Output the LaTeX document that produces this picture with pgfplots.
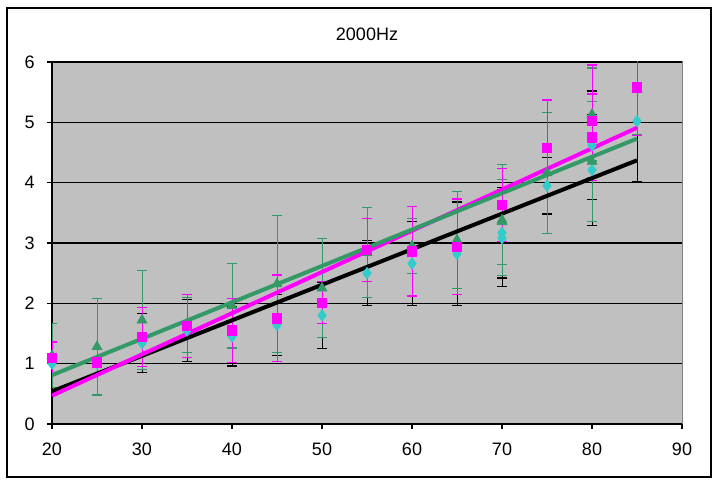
\documentclass[border=0pt]{standalone}
\usepackage{fontspec}
\setmainfont{Liberation Sans}
\usepackage{pgfplots}
\usepackage{pgfplotstable}
\pgfplotsset{compat=1.18}
\definecolor{plotgray}{HTML}{C0C0C0}
\definecolor{mag}{HTML}{FF00FF}
\definecolor{sea}{HTML}{339966}
\definecolor{turq}{HTML}{33CCCC}

\pgfplotstableread{
x y e
20 1.00 0.00
25 1.00 0.00
30 1.34 0.49
35 1.55 0.52
40 1.45 0.49
45 1.64 0.50
50 1.80 0.55
55 2.50 0.54
60 2.66 0.70
65 2.82 0.86
70 3.17 0.75
70 3.08 0.80
75 3.95 0.47
80 4.62 0.90
80 4.21 0.92
85 5.02 1.00
}\cyandata

\pgfplotstableread{
x y e
20 1.10 0.26
25 1.02 0.00
30 1.44 0.49
35 1.62 0.52
40 1.55 0.53
45 1.75 0.72
50 2.01 0.35
55 2.88 0.52
60 2.86 0.74
65 2.94 0.79
70 3.63 0.60
75 4.58 0.79
80 5.02 0.93
80 4.75 0.72
85 5.58 0.80
}\magdata

\pgfplotstableread{
x y e
20 1.13 0.53
25 1.28 0.80
30 1.72 0.82
35 1.64 0.46
40 1.96 0.70
45 2.32 1.14
50 2.25 0.82
55 2.84 0.75
60 2.95 0.46
65 3.05 0.80
70 3.38 0.92
70 3.35 0.70
75 4.16 1.00
80 5.13 0.77
80 4.35 0.99
85 5.54 0.75
}\seadata

\begin{document}
\begin{tikzpicture}
\begin{axis}[
  scale only axis, width=315pt, height=181pt,
  xmin=20, xmax=90, ymin=0, ymax=6,
  xtick={20,30,...,90}, ytick={0,1,...,6},
  axis lines*=left,
  axis line style={black, line width=0.6pt, -},
  axis background/.style={fill=plotgray, draw=gray, line width=0.5pt},
  ymajorgrids, grid style={black, line width=0.6pt},
  tick align=outside, major tick length=2.5pt,
  tick style={black, line width=0.6pt},
  /pgf/number format/assume math mode=true,
  ticklabel style={font=\fontsize{9}{10}\selectfont, inner sep=0pt},
  xticklabel style={anchor=base, yshift=-13.5pt},
  yticklabel style={anchor=east, xshift=-6pt},
  title={2000Hz},
  title style={font=\fontsize{9}{10}\selectfont, at={(0.5,1)}, anchor=base, yshift=4.8pt, inner sep=0pt},
]
\addplot[only marks, mark=diamond*, mark size=2.8pt, color=turq,
  mark options={fill=turq, draw=turq},
  error bars/.cd, y dir=both, y explicit,
  error bar style={black, line width=0.5pt},
  error mark options={rotate=90, black, mark size=2.5pt, line width=0.6pt}]
  table[x=x, y=y, y error=e] {\cyandata};
\addplot[only marks, mark=triangle*, mark size=2.8pt, color=sea,
  mark options={fill=sea, draw=sea},
  error bars/.cd, y dir=both, y explicit,
  error bar style={sea, line width=0.5pt},
  error mark options={rotate=90, sea, mark size=2.5pt, line width=0.6pt}]
  table[x=x, y=y, y error=e] {\seadata};
\addplot[only marks, mark=square*, mark size=2.3pt, color=mag,
  mark options={fill=mag, draw=mag},
  error bars/.cd, y dir=both, y explicit,
  error bar style={mag, line width=0.5pt},
  error mark options={rotate=90, mag, mark size=2.5pt, line width=0.6pt}]
  table[x=x, y=y, y error=e] {\magdata};
\addplot[black, line width=2pt, no marks] coordinates {(20,0.54) (85,4.37)};
\addplot[mag, line width=2pt, no marks] coordinates {(20,0.47) (85,4.91)};
\addplot[sea, line width=2pt, no marks] coordinates {(20,0.81) (85,4.73)};
\end{axis}
\draw[black, line width=0.6pt] ([shift={(-22.5pt,-26.5pt)}]current axis.south west) rectangle ([shift={(14.5pt,27pt)}]current axis.north east);
\path ([shift={(-26pt,-28.5pt)}]current axis.south west) rectangle ([shift={(17.5pt,31pt)}]current axis.north east);
\end{tikzpicture}
\end{document}
